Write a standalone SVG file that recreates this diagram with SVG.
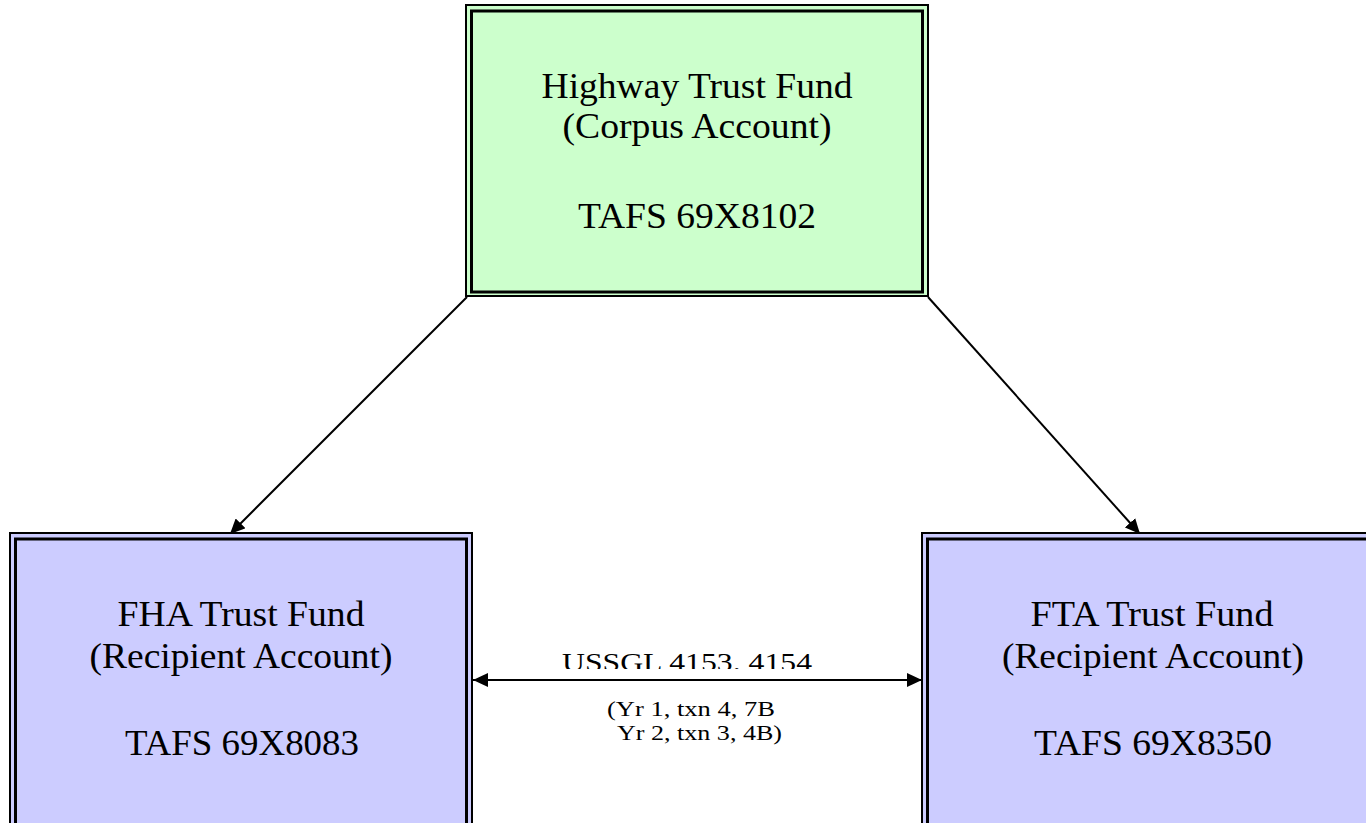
<svg xmlns="http://www.w3.org/2000/svg" width="1366" height="823" viewBox="0 0 1366 823">
<style>
.outer{stroke:#000;stroke-width:2}
.inner{fill:none;stroke:#000;stroke-width:3}
.green{fill:#CCFFCC}
.blue{fill:#CCCCFF}
.t{font-family:"Liberation Serif","Times New Roman",serif;font-size:36px;fill:#000;text-anchor:middle}
.lbl{font-family:"Liberation Serif","Times New Roman",serif;fill:#000}
.conn{stroke:#000;stroke-width:2;fill:none}
</style>
<defs>
<marker id="ah" viewBox="0 0 15 14" refX="15" refY="7" markerWidth="15" markerHeight="14" markerUnits="userSpaceOnUse" orient="auto-start-reverse">
<path d="M0,0 L15,7 L0,14 Z" fill="#000"/>
</marker>
<clipPath id="lblclip"><rect x="500" y="640" width="380" height="29"/></clipPath>
</defs>
<rect width="1366" height="823" fill="#fff"/>
<g id="connectors">
<line class="conn" x1="467" y1="297" x2="230" y2="534" marker-end="url(#ah)"/>
<line class="conn" x1="928" y1="297" x2="1140" y2="534" marker-end="url(#ah)"/>
<line class="conn" x1="473" y1="680" x2="922" y2="680" marker-start="url(#ah)" marker-end="url(#ah)"/>
<text class="lbl" x="562" y="671" font-size="26" textLength="250" lengthAdjust="spacingAndGlyphs" clip-path="url(#lblclip)">USSGL 4153. 4154</text>
<text class="lbl" x="607" y="716" font-size="22" textLength="168" lengthAdjust="spacingAndGlyphs">(Yr 1, txn 4, 7B</text>
<text class="lbl" x="617" y="740" font-size="22" textLength="165" lengthAdjust="spacingAndGlyphs">Yr 2, txn 3, 4B)</text>
</g>
<g id="highway">
<rect class="outer green" x="466" y="5" width="462" height="291"/>
<rect class="inner" x="471.5" y="11" width="451" height="281"/>
<text class="t" x="697" y="98" textLength="311" lengthAdjust="spacingAndGlyphs">Highway Trust Fund</text>
<text class="t" x="697" y="138" textLength="269" lengthAdjust="spacingAndGlyphs">(Corpus Account)</text>
<text class="t" x="697" y="228" textLength="238" lengthAdjust="spacingAndGlyphs">TAFS 69X8102</text>
</g>
<g id="fha">
<rect class="outer blue" x="10" y="533" width="462" height="300"/>
<rect class="inner" x="15.5" y="539" width="451" height="300"/>
<text class="t" x="241" y="626" textLength="247" lengthAdjust="spacingAndGlyphs">FHA Trust Fund</text>
<text class="t" x="241" y="668" textLength="303" lengthAdjust="spacingAndGlyphs">(Recipient Account)</text>
<text class="t" x="242" y="755" textLength="234" lengthAdjust="spacingAndGlyphs">TAFS 69X8083</text>
</g>
<g id="fta">
<rect class="outer blue" x="922" y="533" width="462" height="300"/>
<rect class="inner" x="927.5" y="539" width="451" height="300"/>
<text class="t" x="1152" y="626" textLength="243" lengthAdjust="spacingAndGlyphs">FTA Trust Fund</text>
<text class="t" x="1153" y="668" textLength="302" lengthAdjust="spacingAndGlyphs">(Recipient Account)</text>
<text class="t" x="1153" y="755" textLength="238" lengthAdjust="spacingAndGlyphs">TAFS 69X8350</text>
</g>
</svg>
